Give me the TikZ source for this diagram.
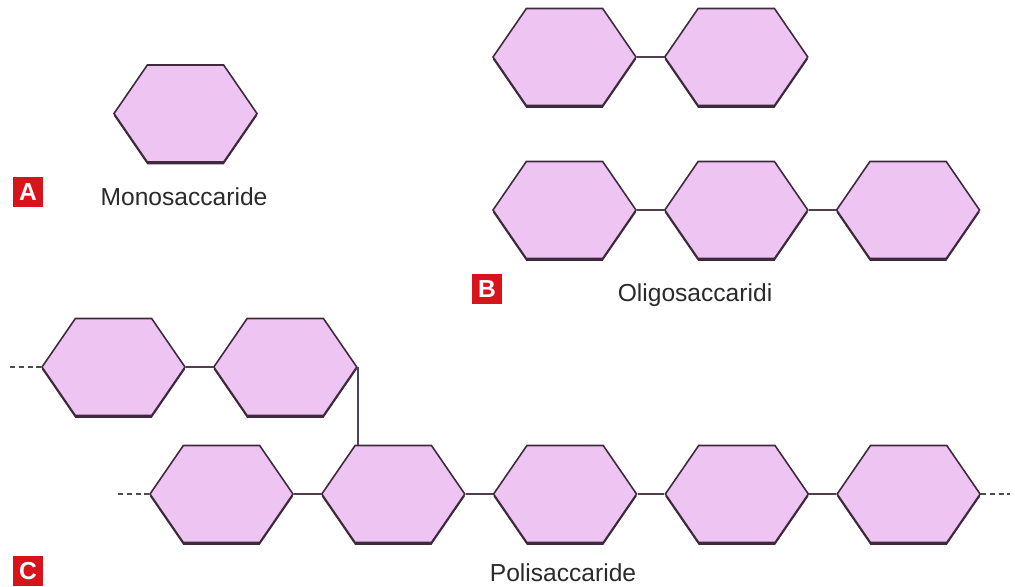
\documentclass[tikz,border=0pt]{standalone}
\usepackage{fontspec}
\setmainfont{Liberation Sans}
\usepackage{xcolor}
\usetikzlibrary{positioning,shapes.symbols,shadows}
\definecolor{sugarfill}{HTML}{EEC4F2}
\definecolor{sugarline}{HTML}{3E2A3C}
\definecolor{tagred}{HTML}{D7131B}
\definecolor{labeltext}{HTML}{2A2A2A}

\begin{document}
\begin{tikzpicture}[
        x=0.02cm, y=-0.02cm,
        font=\fontsize{14}{16}\selectfont,
        sugar/.style={
            signal, signal to=east and west, signal pointer angle=111,
            minimum width=2.86cm, minimum height=1.94cm, inner sep=0pt,
            draw=sugarline, line width=0.9pt, fill=sugarfill,
            drop shadow={shadow xshift=0pt, shadow yshift=-1.4pt,
                         fill=sugarline, opacity=1}
        },
        bond/.style={draw=sugarline!90, line width=1pt},
        chainend/.style={draw=gray!60!black, densely dashed, line width=0.9pt},
        tag/.style={
            fill=tagred, text=white, inner sep=0pt, minimum size=0.6cm,
            font=\fontsize{14}{14}\selectfont\bfseries
        },
        lbl/.style={text=labeltext},
        node distance=0.538cm
    ]

    \useasboundingbox (0,0) rectangle (1015,586);

    % A) one sugar
    \node[sugar] (mono) at (185.5,113.5) {};
    \node[tag] (tagA) at (28,192) {A};
    \node[lbl] (monolbl) at (184,197) {Monosaccaride};

    % B) short chains
    \node[sugar] (di1) at (564.5,57) {};
    \node[sugar, right=of di1] (di2) {};
    \node[sugar] (tri1) at (564.5,210) {};
    \node[sugar, right=of tri1] (tri2) {};
    \node[sugar, right=of tri2] (tri3) {};
    \draw[bond] (di1.east) -- (di2.west);
    \draw[bond] (tri1.east) -- (tri2.west);
    \draw[bond] (tri2.east) -- (tri3.west);
    \node[tag] (tagB) at (487,289) {B};
    \node[lbl] (oligolbl) at (695,295) {Oligosaccaridi};

    % C) branched chain
    \node[sugar] (br1) at (113.5,367) {};
    \node[sugar, right=of br1] (br2) {};
    \node[sugar] (ch1) at (221.5,494) {};
    \node[sugar, right=of ch1] (ch2) {};
    \node[sugar, right=of ch2] (ch3) {};
    \node[sugar, right=of ch3] (ch4) {};
    \node[sugar, right=of ch4] (ch5) {};
    \draw[bond] (br1.east) -- (br2.west);
    \draw[bond] (br2.east) -- (br2.east |- ch2.north);
    \draw[bond] (ch1.east) -- (ch2.west);
    \draw[bond] (ch2.east) -- (ch3.west);
    \draw[bond] (ch3.east) -- (ch4.west);
    \draw[bond] (ch4.east) -- (ch5.west);

    % chain goes on
    \coordinate (brfree) at (10,367);
    \coordinate (chfreeL) at (118,494);
    \coordinate (chfreeR) at (1010,494);
    \draw[chainend] (brfree) -- (br1.west);
    \draw[chainend] (chfreeL) -- (ch1.west);
    \draw[chainend] (ch5.east) -- (chfreeR);

    \node[tag] (tagC) at (28,571) {C};
    \node[lbl] (polilbl) at (563,573) {Polisaccaride};

\end{tikzpicture}
\end{document}
